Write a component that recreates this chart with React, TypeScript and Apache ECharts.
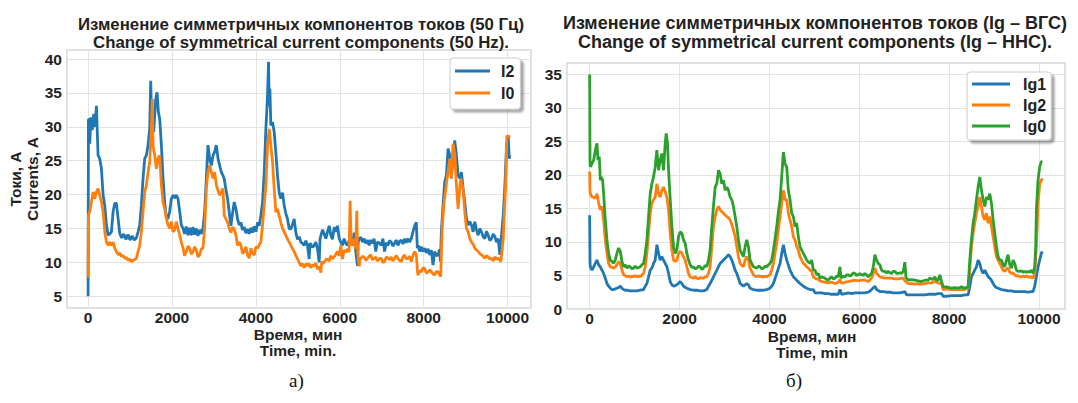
import React, { useEffect, useRef } from "react";
import * as echarts from "echarts";

// ---- Data (time in minutes, current in A) ----
const i2Data: [number, number][] = [[0,5.0],[8,31.0],[24,31.2],[40,27.5],[64,31.4],[100,29.5],[135,31.9],[165,30.0],[199,33.1],[220,29.0],[238,25.8],[278,25.3],[318,23.8],[357,20.0],[397,18.4],[437,15.5],[476,14.0],[516,14.2],[556,14.5],[596,17.5],[635,18.7],[675,18.7],[715,16.5],[754,14.3],[800,13.6],[850,14.2],[900,13.4],[950,14.1],[1000,13.3],[1050,13.9],[1100,13.3],[1151,13.6],[1191,14.5],[1231,15.5],[1270,18.4],[1310,22.4],[1350,25.3],[1390,25.8],[1429,27.3],[1469,29.7],[1493,36.8],[1515,30.5],[1532,32.2],[1564,29.2],[1612,34.1],[1644,35.1],[1675,32.2],[1707,31.2],[1747,27.3],[1787,22.4],[1826,18.9],[1866,16.5],[1906,16.5],[1945,17.5],[1985,19.4],[2030,19.9],[2064,19.5],[2100,19.9],[2144,19.4],[2184,17.5],[2223,15.5],[2263,15.0],[2300,14.2],[2340,15.3],[2380,14.0],[2420,15.1],[2460,14.0],[2500,15.2],[2540,14.1],[2580,15.0],[2620,13.9],[2660,14.8],[2700,14.2],[2739,15.0],[2779,17.5],[2819,22.4],[2858,27.3],[2898,25.3],[2938,24.3],[2978,25.8],[3017,26.3],[3057,27.3],[3097,25.3],[3136,24.3],[3176,23.3],[3216,22.8],[3246,22.3],[3285,20.8],[3325,19.4],[3365,17.4],[3404,15.4],[3450,17.5],[3484,18.9],[3524,17.9],[3563,16.4],[3603,15.5],[3643,15.9],[3680,14.8],[3722,15.2],[3760,14.3],[3801,14.9],[3840,14.2],[3881,15.1],[3920,14.4],[3960,15.3],[4000,14.5],[4040,15.9],[4080,15.4],[4119,16.9],[4159,18.9],[4199,23.3],[4238,29.7],[4278,34.6],[4302,39.6],[4320,33.0],[4334,35.6],[4357,30.2],[4397,30.7],[4437,29.2],[4476,26.2],[4516,22.8],[4556,20.3],[4595,19.4],[4635,20.3],[4675,18.4],[4715,17.2],[4754,16.4],[4794,15.0],[4834,14.9],[4873,15.6],[4913,16.4],[4953,14.4],[4993,13.4],[5032,13.8],[5072,13.0],[5112,12.8],[5151,12.5],[5191,13.2],[5231,12.5],[5270,10.5],[5290,12.8],[5310,12.7],[5350,12.2],[5390,12.5],[5430,13.0],[5469,12.0],[5509,10.0],[5530,13.5],[5549,13.9],[5588,14.8],[5628,14.2],[5668,13.5],[5708,14.5],[5748,15.4],[5787,14.0],[5827,13.4],[5866,15.2],[5906,14.5],[5946,15.4],[5986,13.5],[6025,13.0],[6065,12.5],[6104,13.5],[6144,12.8],[6184,12.5],[6223,13.2],[6263,13.0],[6303,12.5],[6342,14.4],[6382,11.6],[6422,9.5],[6440,13.0],[6462,13.5],[6501,13.7],[6541,13.0],[6581,13.5],[6620,12.8],[6660,13.3],[6700,12.5],[6739,13.3],[6779,12.8],[6819,13.5],[6858,11.6],[6898,13.0],[6950,12.8],[6988,12.5],[7028,13.5],[7068,11.6],[7107,12.9],[7147,12.5],[7187,13.2],[7227,13.0],[7267,12.4],[7307,12.8],[7346,13.3],[7386,12.5],[7426,13.1],[7466,13.3],[7506,12.7],[7546,13.5],[7585,12.9],[7625,13.5],[7665,13.0],[7705,13.5],[7745,14.5],[7785,15.4],[7825,15.9],[7849,12.1],[7870,12.5],[7904,11.6],[7944,12.3],[7984,11.6],[8024,12.1],[8064,11.4],[8104,12.0],[8144,11.1],[8184,11.8],[8223,9.6],[8263,11.6],[8303,11.0],[8343,11.1],[8380,11.9],[8399,10.1],[8422,14.5],[8462,18.4],[8502,21.9],[8542,22.8],[8582,26.8],[8622,25.8],[8661,22.4],[8701,25.8],[8741,28.0],[8781,25.8],[8821,22.8],[8860,22.4],[8900,23.3],[8940,20.9],[8980,18.9],[9020,16.5],[9060,15.5],[9100,16.0],[9140,15.5],[9179,14.5],[9219,16.0],[9259,14.8],[9299,14.0],[9338,15.0],[9378,14.5],[9418,13.8],[9458,13.5],[9498,14.6],[9538,14.0],[9578,13.2],[9618,13.5],[9658,14.2],[9697,13.8],[9737,13.0],[9777,13.5],[9817,11.1],[9857,14.0],[9897,17.0],[9937,21.4],[9976,27.3],[10016,28.7],[10040,25.3],[10056,25.8]];

const i0Data: [number, number][] = [[0,7.8],[8,17.0],[40,17.5],[79,18.9],[119,20.4],[159,19.4],[199,20.4],[238,20.9],[278,19.9],[318,18.9],[357,17.5],[397,14.5],[437,13.0],[476,12.5],[516,13.0],[556,12.5],[596,13.0],[635,12.1],[675,11.6],[715,11.1],[754,11.4],[794,10.9],[833,11.0],[873,10.6],[913,10.7],[953,10.3],[993,10.5],[1032,10.1],[1072,10.3],[1111,10.4],[1151,10.6],[1191,11.6],[1231,12.5],[1270,14.5],[1310,17.5],[1350,20.4],[1390,21.4],[1429,23.3],[1469,24.8],[1508,29.7],[1532,34.1],[1548,27.3],[1588,25.8],[1628,23.8],[1667,25.3],[1707,25.8],[1747,21.4],[1787,18.9],[1826,17.9],[1866,16.5],[1906,15.5],[1945,15.0],[1985,16.0],[2025,14.5],[2064,14.8],[2104,16.0],[2144,15.0],[2184,14.0],[2223,13.0],[2263,12.1],[2300,11.0],[2342,11.6],[2380,12.4],[2422,12.1],[2460,11.2],[2501,11.6],[2540,12.3],[2581,11.8],[2620,10.8],[2660,11.1],[2700,12.0],[2739,12.1],[2779,15.0],[2819,20.9],[2858,23.3],[2898,24.3],[2938,23.3],[2978,22.4],[3017,23.3],[3057,21.4],[3097,20.6],[3136,19.9],[3176,20.4],[3216,20.9],[3246,16.9],[3285,16.4],[3325,15.9],[3365,15.0],[3404,14.4],[3444,15.2],[3484,14.9],[3524,14.0],[3563,12.5],[3603,13.0],[3643,12.5],[3682,11.3],[3722,11.6],[3761,12.3],[3801,11.1],[3841,10.6],[3881,12.1],[3920,11.3],[3960,11.1],[4000,12.3],[4040,12.1],[4080,12.6],[4119,13.0],[4159,15.5],[4199,18.4],[4238,21.3],[4278,27.2],[4318,29.7],[4357,27.3],[4397,24.8],[4437,20.8],[4476,17.4],[4516,17.9],[4556,16.9],[4595,15.9],[4635,15.0],[4675,14.5],[4715,14.0],[4754,13.4],[4794,13.0],[4834,12.5],[4873,12.0],[4913,11.6],[4953,11.0],[4993,10.5],[5032,10.0],[5072,9.5],[5112,9.8],[5151,9.2],[5191,9.8],[5231,9.5],[5270,9.8],[5310,9.2],[5350,9.6],[5390,9.5],[5430,9.9],[5469,9.0],[5509,9.4],[5549,8.5],[5570,10.2],[5588,9.8],[5628,10.0],[5668,10.4],[5708,10.5],[5748,10.2],[5787,11.0],[5827,10.5],[5866,10.8],[5906,11.2],[5946,11.6],[5986,11.0],[6025,12.5],[6065,10.5],[6104,11.8],[6144,11.5],[6184,12.0],[6220,11.5],[6247,19.1],[6265,14.0],[6279,12.5],[6310,13.5],[6342,13.0],[6380,12.0],[6406,17.6],[6420,12.5],[6438,10.6],[6462,9.4],[6480,10.5],[6501,10.6],[6541,10.9],[6581,10.8],[6620,10.3],[6660,10.6],[6700,10.9],[6739,11.1],[6779,10.4],[6819,10.6],[6858,10.8],[6898,10.2],[6950,10.6],[6988,10.6],[7028,10.0],[7068,10.1],[7107,10.8],[7147,10.6],[7187,10.4],[7227,10.8],[7267,10.2],[7307,10.6],[7346,11.0],[7386,10.6],[7426,10.3],[7466,10.1],[7506,10.8],[7546,11.1],[7585,10.5],[7625,10.6],[7665,10.9],[7705,10.1],[7745,11.0],[7785,11.6],[7825,11.1],[7850,9.0],[7864,8.1],[7904,8.8],[7944,8.6],[7984,9.2],[8024,9.1],[8064,8.4],[8104,8.6],[8144,8.9],[8184,8.6],[8223,8.3],[8263,8.1],[8303,8.7],[8343,8.6],[8380,8.2],[8406,7.9],[8438,14.5],[8478,18.4],[8518,20.4],[8550,22.0],[8582,23.3],[8622,25.3],[8661,22.4],[8701,27.5],[8741,26.0],[8781,21.4],[8821,17.9],[8860,20.9],[8884,22.4],[8912,21.5],[8940,20.9],[8980,17.5],[9020,15.0],[9060,14.5],[9100,13.5],[9140,13.0],[9180,12.7],[9219,12.1],[9259,11.8],[9299,11.6],[9338,11.3],[9378,11.1],[9418,10.9],[9458,10.6],[9498,11.0],[9538,10.8],[9578,10.5],[9618,10.6],[9658,10.2],[9697,10.8],[9737,10.5],[9777,10.6],[9841,10.1],[9897,13.5],[9953,21.3],[9984,28.7],[10016,28.5],[10056,28.7]];

const ig1Data: [number, number][] = [[0,14.0],[8,7.0],[15,6.3],[52,5.8],[89,6.3],[126,6.8],[163,7.3],[200,6.6],[237,6.3],[274,5.8],[311,5.3],[348,4.6],[385,3.8],[422,3.4],[459,3.1],[496,2.9],[533,2.9],[570,3.0],[607,3.1],[644,3.2],[681,3.4],[719,3.1],[756,2.9],[793,2.8],[830,2.8],[904,2.7],[978,2.7],[1052,2.7],[1126,2.8],[1200,2.9],[1237,3.4],[1274,3.8],[1311,4.8],[1348,5.8],[1385,6.1],[1422,6.8],[1459,7.3],[1496,9.6],[1533,8.3],[1570,7.3],[1607,7.8],[1644,7.3],[1681,6.8],[1719,6.3],[1756,5.3],[1793,4.1],[1830,3.6],[1867,3.4],[1941,3.6],[2015,4.1],[2052,3.8],[2089,3.4],[2163,3.1],[2237,2.9],[2311,2.8],[2385,2.8],[2459,2.7],[2533,2.7],[2607,2.9],[2644,3.4],[2681,3.8],[2755,4.8],[2830,5.8],[2904,6.8],[2978,7.3],[3052,7.8],[3089,8.1],[3126,7.8],[3163,7.3],[3200,6.6],[3237,5.8],[3274,5.3],[3311,4.6],[3348,3.8],[3422,3.4],[3459,3.6],[3496,3.8],[3533,3.6],[3570,3.1],[3644,2.9],[3718,2.8],[3793,2.8],[3867,2.8],[3941,2.9],[4015,3.1],[4052,3.4],[4089,3.8],[4163,5.3],[4237,6.8],[4274,8.3],[4311,9.6],[4348,8.3],[4385,7.3],[4459,5.8],[4533,4.8],[4607,4.3],[4681,3.8],[4755,3.4],[4830,3.1],[4904,2.9],[4978,2.9],[5015,2.4],[5089,2.4],[5163,2.4],[5237,2.3],[5311,2.3],[5385,2.2],[5459,2.2],[5533,2.2],[5570,2.9],[5607,2.2],[5681,2.3],[5756,2.4],[5830,2.3],[5904,2.4],[5978,2.4],[6052,2.4],[6126,2.4],[6200,2.5],[6274,2.9],[6348,3.4],[6385,2.9],[6459,2.6],[6533,2.6],[6607,2.5],[6681,2.5],[6756,2.4],[6830,2.4],[6904,2.4],[6978,2.5],[7015,2.6],[7052,2.1],[7163,2.1],[7237,2.1],[7311,2.1],[7385,2.1],[7459,2.1],[7533,2.2],[7607,2.2],[7681,2.2],[7756,2.3],[7830,2.3],[7867,1.9],[7941,1.9],[8052,2.0],[8163,2.0],[8274,2.0],[8348,2.1],[8422,2.1],[8459,3.3],[8496,4.8],[8533,5.3],[8570,5.8],[8607,6.3],[8644,7.3],[8681,6.8],[8719,5.8],[8756,5.3],[8793,5.8],[8830,5.3],[8867,4.8],[8904,4.6],[8941,4.3],[8978,3.8],[9015,3.4],[9052,3.2],[9089,3.1],[9163,2.9],[9237,2.8],[9311,2.7],[9385,2.7],[9459,2.6],[9533,2.6],[9607,2.6],[9681,2.6],[9756,2.5],[9830,2.6],[9867,2.6],[9904,3.4],[9941,4.8],[9978,6.3],[10015,7.3],[10052,8.3],[10074,8.6]];

const ig2Data: [number, number][] = [[0,20.5],[8,17.5],[15,17.2],[52,16.7],[89,16.7],[126,16.5],[163,17.2],[200,15.8],[237,14.8],[274,15.3],[311,13.3],[348,10.3],[385,8.3],[422,6.8],[459,6.3],[496,6.2],[533,6.1],[570,6.3],[607,6.6],[644,7.1],[681,6.8],[719,5.8],[756,5.1],[793,5.0],[830,4.8],[867,4.9],[904,4.7],[941,4.9],[978,4.8],[1015,5.0],[1052,4.8],[1089,4.9],[1126,4.8],[1163,5.1],[1200,5.3],[1237,6.3],[1274,8.3],[1311,11.3],[1348,14.3],[1385,15.8],[1422,16.3],[1459,16.7],[1496,18.7],[1533,17.2],[1570,16.7],[1607,17.7],[1644,18.2],[1681,17.5],[1719,16.7],[1756,14.8],[1793,11.3],[1830,8.8],[1867,7.3],[1904,7.1],[1941,7.3],[1978,8.3],[2015,8.6],[2052,8.3],[2089,7.8],[2126,7.3],[2163,6.3],[2200,5.3],[2237,4.8],[2274,4.7],[2311,4.6],[2348,4.8],[2385,4.6],[2422,4.5],[2459,4.7],[2496,4.6],[2533,4.6],[2570,4.8],[2607,4.8],[2644,5.3],[2681,6.3],[2718,9.3],[2755,12.3],[2793,13.8],[2830,14.8],[2867,15.3],[2904,14.8],[2941,14.5],[2978,14.3],[3015,14.0],[3052,13.8],[3089,13.6],[3126,13.3],[3163,12.6],[3200,11.8],[3237,10.8],[3274,9.3],[3311,7.8],[3348,6.8],[3385,6.5],[3422,6.3],[3459,7.3],[3496,7.8],[3533,7.3],[3570,6.1],[3607,5.6],[3644,5.1],[3681,4.9],[3718,4.8],[3756,5.0],[3793,4.8],[3830,4.9],[3867,4.7],[3904,4.9],[3941,4.8],[3978,5.0],[4015,5.1],[4052,5.8],[4089,6.8],[4126,8.3],[4163,9.8],[4200,11.8],[4237,13.8],[4274,15.8],[4311,17.7],[4348,16.3],[4385,16.3],[4422,14.3],[4459,13.3],[4496,12.3],[4533,10.8],[4570,10.3],[4607,9.3],[4644,8.8],[4681,7.8],[4718,7.3],[4755,6.8],[4793,6.6],[4830,6.3],[4867,6.1],[4904,5.8],[4941,5.6],[4978,4.8],[5015,4.6],[5052,4.5],[5089,4.4],[5126,4.2],[5163,4.1],[5237,4.0],[5311,3.9],[5385,4.0],[5459,3.8],[5533,4.0],[5570,4.4],[5607,3.8],[5681,4.0],[5756,4.1],[5830,4.2],[5904,4.3],[5978,4.2],[6052,4.3],[6126,4.3],[6200,4.1],[6274,4.6],[6311,5.3],[6348,6.1],[6385,5.3],[6422,5.1],[6459,4.8],[6496,4.7],[6570,4.6],[6644,4.6],[6718,4.6],[6793,4.5],[6867,4.5],[6941,4.6],[6978,4.6],[7015,4.2],[7089,3.8],[7163,3.8],[7237,3.7],[7311,3.8],[7385,3.7],[7459,3.8],[7533,3.9],[7607,3.9],[7681,4.1],[7756,3.9],[7830,3.8],[7867,2.9],[7941,3.0],[8052,2.9],[8126,2.9],[8200,2.9],[8274,2.9],[8348,2.9],[8422,3.1],[8459,5.8],[8496,9.3],[8533,11.3],[8570,12.8],[8607,14.3],[8644,15.3],[8681,16.7],[8719,15.3],[8756,13.8],[8793,13.3],[8830,14.3],[8867,12.8],[8904,13.8],[8941,12.3],[8978,10.8],[9015,9.3],[9052,7.8],[9089,7.3],[9126,6.8],[9163,6.3],[9200,5.8],[9237,5.6],[9274,6.0],[9311,6.1],[9348,5.5],[9385,5.3],[9422,5.4],[9459,5.1],[9496,4.9],[9533,5.0],[9570,4.8],[9607,4.8],[9644,4.9],[9681,4.8],[9718,4.9],[9756,4.8],[9793,4.7],[9830,4.8],[9867,4.6],[9904,5.3],[9941,9.3],[9978,15.8],[10015,18.7],[10052,19.2],[10074,19.5]];

const ig0Data: [number, number][] = [[0,35.0],[8,22.0],[15,21.2],[52,21.7],[89,22.2],[126,23.7],[163,24.7],[185,22.2],[215,22.7],[237,19.2],[259,19.7],[289,19.2],[311,17.2],[348,13.3],[385,10.3],[422,8.3],[459,7.3],[496,7.1],[533,6.8],[570,7.3],[607,8.3],[644,9.1],[681,8.6],[719,7.1],[756,6.3],[793,6.6],[830,6.1],[867,6.4],[904,6.3],[941,6.0],[978,6.1],[1015,6.4],[1052,6.1],[1089,6.2],[1126,6.3],[1163,6.6],[1200,6.8],[1237,8.3],[1274,10.3],[1311,13.8],[1348,17.2],[1385,18.7],[1422,19.7],[1459,21.2],[1496,23.7],[1533,20.7],[1570,22.2],[1607,23.2],[1644,20.7],[1681,24.7],[1704,26.2],[1733,24.7],[1756,20.7],[1793,16.3],[1830,12.3],[1867,9.3],[1904,8.3],[1941,8.8],[1978,10.8],[2015,11.5],[2052,11.3],[2089,10.3],[2126,9.8],[2163,8.3],[2200,7.3],[2237,6.6],[2274,6.2],[2311,6.3],[2348,6.0],[2385,6.1],[2422,6.4],[2459,6.3],[2496,5.9],[2533,6.1],[2570,6.5],[2607,6.3],[2644,7.3],[2681,8.8],[2718,12.3],[2755,15.3],[2793,18.2],[2830,18.7],[2867,20.7],[2904,20.2],[2941,18.7],[2978,19.2],[3015,17.7],[3052,18.2],[3089,17.7],[3126,16.7],[3163,16.3],[3200,15.3],[3237,13.8],[3274,12.3],[3311,10.3],[3348,8.8],[3385,8.3],[3422,7.8],[3459,9.3],[3496,10.3],[3533,9.3],[3570,7.3],[3607,6.8],[3644,6.3],[3681,6.2],[3718,6.1],[3756,6.4],[3793,6.3],[3830,6.0],[3867,6.1],[3904,6.4],[3941,6.3],[3978,6.6],[4015,6.8],[4052,7.3],[4089,8.8],[4126,10.5],[4163,12.3],[4200,14.5],[4237,16.3],[4274,19.7],[4311,23.4],[4348,21.7],[4385,21.2],[4422,17.7],[4459,16.3],[4496,14.3],[4533,13.8],[4570,12.3],[4607,12.8],[4644,10.8],[4681,9.3],[4718,8.8],[4755,8.3],[4793,7.8],[4830,7.3],[4867,7.0],[4904,6.8],[4941,7.3],[4978,5.8],[5015,5.8],[5052,5.1],[5089,5.3],[5126,4.6],[5163,4.8],[5200,4.7],[5237,4.6],[5274,4.4],[5311,4.3],[5348,4.6],[5385,4.8],[5422,4.5],[5459,4.6],[5496,4.9],[5533,4.8],[5570,6.3],[5593,4.6],[5637,4.9],[5681,4.8],[5718,5.1],[5756,5.1],[5793,4.9],[5830,5.1],[5867,5.4],[5904,5.3],[5941,5.0],[5978,5.1],[6015,5.3],[6052,5.1],[6089,5.0],[6126,5.3],[6163,5.1],[6200,4.8],[6237,5.1],[6274,5.3],[6311,6.3],[6348,8.1],[6385,7.3],[6422,6.8],[6459,6.6],[6496,5.8],[6533,5.6],[6570,5.6],[6607,5.4],[6644,5.6],[6681,5.4],[6718,5.3],[6756,5.6],[6793,5.6],[6830,5.3],[6867,5.3],[6904,5.4],[6941,5.3],[6978,5.6],[7015,7.0],[7037,4.8],[7089,4.3],[7163,4.4],[7237,4.3],[7311,4.2],[7385,4.1],[7459,4.3],[7533,4.3],[7570,4.6],[7607,4.5],[7644,4.4],[7681,4.8],[7718,4.3],[7756,4.3],[7793,5.1],[7830,4.1],[7867,3.3],[7941,3.3],[7997,3.2],[8052,3.1],[8126,3.2],[8200,3.1],[8274,3.3],[8348,3.1],[8422,3.3],[8459,7.3],[8496,10.3],[8533,12.8],[8570,14.3],[8607,16.3],[8644,18.2],[8681,19.7],[8719,17.7],[8756,16.3],[8793,15.3],[8830,16.7],[8867,16.3],[8904,17.2],[8941,15.8],[8978,13.3],[9015,11.3],[9052,9.3],[9089,7.8],[9126,7.3],[9163,7.3],[9200,6.6],[9237,6.3],[9274,7.3],[9311,8.1],[9348,6.6],[9385,6.1],[9422,7.3],[9459,6.8],[9496,5.8],[9533,5.6],[9570,5.6],[9607,5.7],[9644,5.5],[9681,5.6],[9718,5.5],[9756,5.6],[9793,5.5],[9830,5.8],[9867,5.3],[9904,6.3],[9926,9.3],[9941,14.8],[9978,19.2],[10015,21.2],[10052,22.0],[10074,22.0]];

const leftSeriesNames = ["I2", "I0"];
const rightSeriesNames = ["Ig1", "Ig2", "Ig0"];
const leftTitle = "Изменение симметричных компонентов токов (50 Гц)\nChange of symmetrical current components (50 Hz).";
const rightTitle = "Изменение симметричных компонентов токов (Ig – ВГС)\nChange of symmetrical current components (Ig – ННС).";
const leftXName = ["Время, мин", "Time, min."];
const rightXName = ["Время, мин", "Time, min"];
const leftYName = "Токи, A\nCurrents, A";
const captions = ["а)", "б)"];

const BLUE = "#1f77b4";
const ORANGE = "#ff7f0e";
const GREEN = "#2ca02c";
const FONT = "'Liberation Sans', Arial, sans-serif";
const TXT = "#222222";
const GRIDC = "#e3e3e3";

function fmt(step: number) {
  return (v: number) => (Math.abs(v % step) < 1e-6 && v >= 0 ? String(Math.round(v)) : "");
}

export default function App() {
  const ref = useRef<HTMLDivElement>(null);
  useEffect(() => {
    if (!ref.current) return;
    const chart = echarts.init(ref.current, undefined, { renderer: "svg" });
    const axisLabel = { color: TXT, fontFamily: FONT, fontWeight: "bold" as const, fontSize: 15.5 };
    const nameStyle = { color: TXT, fontFamily: FONT, fontWeight: "bold" as const, fontSize: 15.5, lineHeight: 17 };
    const nameFont = "bold 15.5px 'Liberation Sans', Arial, sans-serif";
    const mkX = (gi: number, min: number, max: number) => ({
      type: "value", gridIndex: gi, min, max, minInterval: 2000, maxInterval: 2000,
      axisLine: { show: false }, axisTick: { show: false },
      axisLabel: { ...axisLabel, margin: 1, formatter: fmt(2000), showMinLabel: false, showMaxLabel: false },
      splitLine: { show: true, lineStyle: { color: GRIDC, width: 1 } },
    });
    const mkY = (gi: number, min: number, max: number, showMin: boolean, name?: string) => ({
      type: "value", gridIndex: gi, min, max, minInterval: 5, maxInterval: 5,
      axisLine: { show: false }, axisTick: { show: false },
      axisLabel: { ...axisLabel, margin: 5, formatter: fmt(5), showMinLabel: showMin, showMaxLabel: false },
      splitLine: { show: true, lineStyle: { color: GRIDC, width: 1 } },
      name, nameLocation: "middle", nameGap: 24, nameRotate: 90, nameTextStyle: nameStyle,
    });
    const line = (name: string, data: [number, number][], color: string, gi: number) => ({
      type: "line", name, data, xAxisIndex: gi, yAxisIndex: gi,
      showSymbol: false, symbol: "none", color,
      lineStyle: { color, width: 2.8 }, z: 3,
    });
    const legendCommon = {
      orient: "vertical", icon: "rect", itemHeight: 3,
      backgroundColor: "#fff", borderColor: "#cccccc", borderWidth: 1, borderRadius: 3,
      shadowColor: "rgba(0,0,0,0.35)", shadowBlur: 2, shadowOffsetX: 3, shadowOffsetY: 3,
      textStyle: { color: TXT, fontFamily: FONT, fontWeight: "bold", fontSize: 16, padding: [0, 0, 0, 6] },
    };
    const ctext = (text: string, x: number, y: number, font: string) => ({
      type: "text", x, y, style: { text, font, fill: TXT, align: "center", verticalAlign: "middle" },
    });
    chart.setOption({
      animation: false,
      backgroundColor: "#ffffff",
      title: [
        { text: leftTitle, left: 296, top: 10, textAlign: "center",
          textStyle: { color: TXT, fontFamily: FONT, fontWeight: "bold", fontSize: 16.8, lineHeight: 18 } },
        { text: rightTitle, left: 810, top: 9, textAlign: "center",
          textStyle: { color: TXT, fontFamily: FONT, fontWeight: "bold", fontSize: 18, lineHeight: 18.5 } },
      ],
      grid: [
        { left: 67, top: 50, width: 464, height: 258, show: true, borderColor: "#d4d4d4", borderWidth: 1.5, backgroundColor: "#fff" },
        { left: 567, top: 63, width: 498, height: 246, show: true, borderColor: "#d4d4d4", borderWidth: 1.5, backgroundColor: "#fff" },
      ],
      xAxis: [mkX(0, -503, 10559), mkX(1, -504, 10578)],
      yAxis: [mkY(0, 3.27, 41.33, false, leftYName), mkY(1, 0, 36.7, true)],
      legend: [
        { ...legendCommon, data: leftSeriesNames, left: 450, top: 58, itemWidth: 35, itemGap: 6, padding: [5, 6, 8, 5] },
        { ...legendCommon, data: rightSeriesNames, left: 967, top: 72, itemWidth: 38, itemGap: 5, padding: [4, 5, 6, 5], textStyle: { ...legendCommon.textStyle, padding: [0, 0, 0, 8] } },
      ],
      series: [
        line(leftSeriesNames[0], i2Data, BLUE, 0),
        line(leftSeriesNames[1], i0Data, ORANGE, 0),
        line(rightSeriesNames[0], ig1Data, BLUE, 1),
        line(rightSeriesNames[1], ig2Data, ORANGE, 1),
        line(rightSeriesNames[2], ig0Data, GREEN, 1),
      ],
      graphic: [
        ctext(leftXName[0], 298, 334, nameFont),
        ctext(leftXName[1], 298, 350.5, nameFont),
        ctext(rightXName[0], 812, 336, nameFont),
        ctext(rightXName[1], 812, 352.5, nameFont),
        { type: "text", left: 289, top: 371, style: { text: captions[0], font: "19px 'Liberation Serif', 'Times New Roman', serif", fill: "#111" } },
        { type: "text", left: 786, top: 371, style: { text: captions[1], font: "19px 'Liberation Serif', 'Times New Roman', serif", fill: "#111" } },
      ],
    });
    return () => chart.dispose();
  }, []);
  return <div ref={ref} style={{ position: "fixed", left: 0, top: 0, width: 1078, height: 403, background: "#fff" }} />;
}
